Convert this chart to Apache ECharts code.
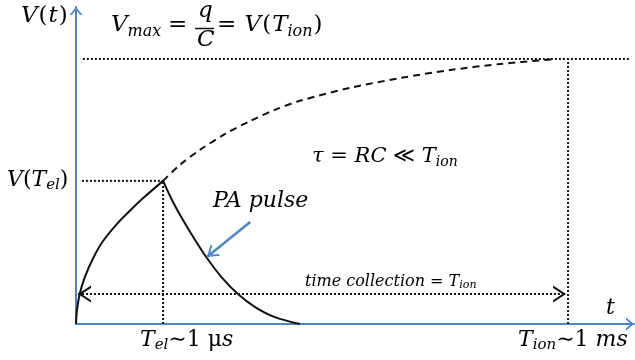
<!DOCTYPE html>
<html>
<head>
<meta charset="utf-8">
<script src="https://cdn.jsdelivr.net/npm/echarts@6/dist/echarts.min.js"></script>
<style>
  html, body { margin: 0; padding: 0; background: #fff; }
  #chart { width: 635px; height: 360px; }
</style>
</head>
<body>
<div id="chart"></div>
<script>
// Time in units of T_ion / 100, voltage in units of V_max / 100
const T_EL = 17.7;
const T_ION = 100;
const V_MAX = 100;
const V_TEL = 54.0;
const COLLECT_LEVEL = 11.3;

// charging curve while electrons drift (0 .. T_el)
const riseT = [0, 0.2, 0.8, 1.8, 3.5, 5.5, 8.3, 11.0, 13.6, 17.7];
const riseV = [0, 5.3, 11.7, 17.7, 24.9, 31.3, 37.7, 42.8, 47.4, 54.0];

// preamplifier pulse decaying with tau = RC
const decayT = [17.7, 19.5, 21.5, 24.2, 26.6, 29.7, 32.9, 36.4, 40.4, 45.5];
const decayV = [54.0, 46.8, 40.0, 31.7, 24.9, 17.4, 11.3, 6.4, 2.6, 0];

// full charge collection up to T_ion
const chargeT = [17.7, 21.1, 25.2, 30.3, 35.4, 40.4, 45.5, 55.7, 65.9, 76.0, 86.2, 96.7];
const chargeV = [54.0, 60.0, 65.7, 71.7, 76.6, 80.8, 84.2, 89.1, 92.8, 95.8, 98.1, 99.8];

// PA pulse pointer: tail and head
const pointerT = [35.4, 26.6];
const pointerV = [38.5, 25.3];

// tick labels on the axes
const xTickLabels = ['{i|T}{s|el}{u|∼1 μ}{i|s}', '{i|T}{s|ion}{u|∼1 }{i|ms}'];
const yTickLabels = ['{i|V}{u|(}{i|T}{s|el}{u|)}'];
const xAxisName = '{i|t}';
const yAxisName = '{I|V}{U|(}{I|t}{U|)}';

const INK = '#111';
const BLUE = '#4a86c8';
const FONT = "'DejaVu Serif', 'DejaVu Sans', serif";

const rich = {
  i: { fontFamily: FONT, fontStyle: 'italic', fontSize: 22, lineHeight: 26, color: INK },
  u: { fontFamily: FONT, fontSize: 22, lineHeight: 26, color: INK },
  s: { fontFamily: FONT, fontStyle: 'italic', fontSize: 15, lineHeight: 14, verticalAlign: 'bottom', color: INK },
  t: { fontFamily: FONT, fontStyle: 'italic', fontSize: 21, lineHeight: 26, color: INK },
  v: { fontFamily: FONT, fontSize: 21, lineHeight: 26, color: INK },
  w: { fontFamily: FONT, fontStyle: 'italic', fontSize: 14, lineHeight: 14, verticalAlign: 'bottom', color: INK },
  I: { fontFamily: FONT, fontStyle: 'italic', fontSize: 23, lineHeight: 28, color: INK },
  U: { fontFamily: FONT, fontSize: 23, lineHeight: 28, color: INK, padding: [0, 1, 0, 1] },
  S: { fontFamily: FONT, fontStyle: 'italic', fontSize: 16, lineHeight: 16, verticalAlign: 'bottom', color: INK },
  a: { fontFamily: FONT, fontStyle: 'italic', fontSize: 16, lineHeight: 18, color: INK },
  b: { fontFamily: FONT, fontSize: 16, lineHeight: 18, color: INK },
  c: { fontFamily: FONT, fontStyle: 'italic', fontSize: 11, lineHeight: 10, verticalAlign: 'bottom', color: INK }
};

// open arrowhead pointing up; the apex sits at the centre of the symbol box
function chevron(w, h, t) {
  const c = w / 2, d = 2 * t * h / w;
  return 'path://M' + c + ',0 L' + w + ',' + h + ' L' + (w - t) + ',' + h +
    ' L' + c + ',' + d + ' L' + t + ',' + h + ' L0,' + h + ' Z M' + c + ',' + (-h) + ' L' + c + ',' + (-h) + ' Z';
}

const zip = (xs, ys) => xs.map((x, k) => [x, ys[k]]);

function guide(data) {
  return {
    type: 'line', data: data, symbol: 'none', clip: false, silent: true,
    lineStyle: { color: INK, width: 2, type: [2, 2] }
  };
}

function curve(xs, ys, dash) {
  return {
    type: 'line', data: zip(xs, ys), symbol: 'none', smooth: 0.3,
    clip: false, silent: true,
    lineStyle: { color: INK, width: 2, type: dash || 'solid' }
  };
}

function text(label, left, top) {
  return { type: 'text', left: left, top: top, style: { text: label, rich: rich } };
}

const chart = echarts.init(document.getElementById('chart'), null, { renderer: 'canvas' });

const axisCommon = {
  type: 'value',
  axisLine: {
    show: true,
    symbol: ['none', chevron(13, 8, 2.2)],
    symbolSize: [13, 16],
    lineStyle: { color: BLUE, width: 2 }
  },
  axisTick: { show: false },
  axisLabel: { show: false },
  splitLine: { show: false }
};

const decay = curve(decayT, decayV);
decay.markLine = {
  silent: true, animation: false,
  symbol: [chevron(17, 13, 2.4), chevron(17, 13, 2.4)],
  symbolSize: [17, 26],
  label: { show: false },
  lineStyle: { color: INK, width: 2, type: [2, 2] },
  emphasis: { disabled: true },
  data: [[{ coord: [0.4, COLLECT_LEVEL] }, { coord: [99.6, COLLECT_LEVEL] }]]
};

chart.setOption({
  animation: false,
  grid: { left: 76, right: 1, top: 7, bottom: 36 },
  xAxis: Object.assign({}, axisCommon, { min: 0, max: 113.4 }),
  yAxis: Object.assign({}, axisCommon, { min: 0, max: 119.6 }),
  series: [
    guide([[1.4, V_MAX], [112.6, V_MAX]]),
    guide([[T_ION, 0], [T_ION, V_MAX]]),
    guide([[T_EL, 0], [T_EL, V_TEL]]),
    guide([[1.2, V_TEL], [T_EL, V_TEL]]),
    curve(chargeT, chargeV, [7, 5]),
    curve(riseT, riseV),
    decay,
    {
      type: 'line', data: [], symbol: 'none', silent: true,
      markLine: {
        silent: true, animation: false,
        symbol: ['none', chevron(15, 11, 2.4)],
        symbolSize: [15, 22],
        label: { show: false },
        lineStyle: { color: BLUE, width: 2.5, type: 'solid' },
        emphasis: { disabled: true },
        data: [[{ coord: [pointerT[0], pointerV[0]] }, { coord: [pointerT[1], pointerV[1]] }]]
      }
    }
  ],
  graphic: [
    text(yAxisName, 21, 5),
    text('{I|V}{S|max}', 111, 14),
    text('{U|=}', 167, 14),
    { type: 'text', left: 198, top: 0, style: { text: '{I|q}', rich: rich } },
    { type: 'line', shape: { x1: 195, y1: 28.5, x2: 214, y2: 28.5 }, style: { stroke: INK, lineWidth: 1.5 } },
    { type: 'text', left: 197, top: 29, style: { text: '{I|C}', rich: rich } },
    text('{U|= }{I|V}{U|(}{I|T}{S|ion}{U|)}', 216, 14),
    text(yTickLabels[0], 7, 169),
    text('{t|τ}{v| = }{t|RC}{v| ≪ }{t|T}{w|ion}', 312, 146),
    text('{i|PA pulse}', 213, 190),
    text('{a|time collection}{b| = }{a|T}{c|ion}', 305, 274),
    text(xAxisName, 606, 297),
    text(xTickLabels[0], 140, 329),
    text(xTickLabels[1], 518, 329)
  ]
});
</script>
</body>
</html>
